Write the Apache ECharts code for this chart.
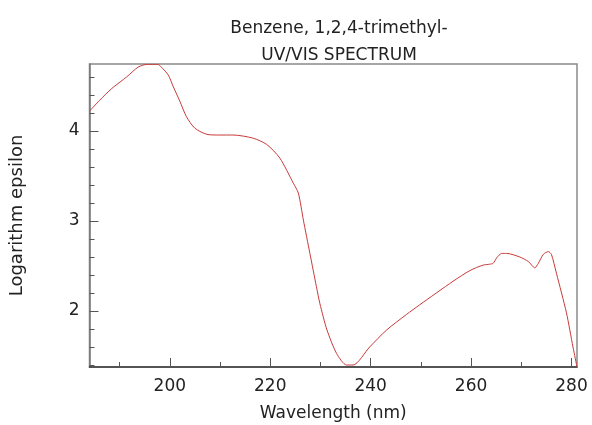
<!DOCTYPE html>
<html>
<head>
<meta charset="utf-8">
<script src="https://cdn.jsdelivr.net/npm/echarts@6/dist/echarts.min.js"></script>
<style>
  html, body { margin: 0; padding: 0; background: #fff; }
  #chart { width: 592px; height: 425px; }
</style>
</head>
<body>
<div id="chart"></div>
<script>
// wavelength (nm) and log epsilon
const wavelength = [184, 186, 188.4, 191.4, 193.7, 195.5, 197.6, 198.3, 199.7, 200.7, 202, 203.3, 205, 207.6, 210, 212.6, 216.6, 219.3, 221.9, 224.6, 225.6, 226.6, 227.9, 229.2, 229.9, 231.3, 233.2, 235.2, 236.5, 239.8, 243.2, 247.1, 249.8, 256.4, 259.8, 262.4, 263.7, 264.4, 265.1, 266.1, 267.1, 269.7, 271.4, 272.7, 273.4, 274.4, 275.4, 276.0, 277.0, 279.0, 280.3, 281.1];
const logEps = [4.22, 4.34, 4.47, 4.60, 4.71, 4.74, 4.74, 4.71, 4.62, 4.49, 4.33, 4.16, 4.03, 3.96, 3.955, 3.955, 3.92, 3.85, 3.70, 3.42, 3.31, 3.01, 2.64, 2.27, 2.08, 1.79, 1.53, 1.40, 1.40, 1.60, 1.79, 1.96, 2.07, 2.33, 2.45, 2.51, 2.52, 2.53, 2.59, 2.64, 2.64, 2.60, 2.55, 2.48, 2.53, 2.63, 2.66, 2.63, 2.42, 1.98, 1.60, 1.38];

const xMajor = [200, 220, 240, 260, 280];
const xMinor = [190, 210, 230, 250, 270];
const yMajor = [2, 3, 4];
const yMinor = [1.4, 1.6, 1.8, 2.2, 2.4, 2.6, 2.8, 3.2, 3.4, 3.6, 3.8, 4.2, 4.4, 4.6];

const xMin = 184, xMax = 281.1;
const yMin = 1.378, yMax = 4.744;

const chart = echarts.init(document.getElementById('chart'));
const font = 'DejaVu Sans';

let option = {
	backgroundColor: '#ffffff',
	animation: false,
	title: {
		text: 'Benzene, 1,2,4-trimethyl-\nUV/VIS SPECTRUM',
		left: 334,
		textAlign: 'center',
		top: 10,
		textStyle: {
			color: '#222',
			fontWeight: 'normal',
			fontFamily: font,
			fontSize: 17,
			lineHeight: 27
		}
	},
	grid: {
		left: 89.5,
		right: 15,
		top: 64,
		bottom: 58,
		outerBoundsMode: 'none',
		show: true,
		borderColor: '#8a8a8a',
		borderWidth: 1.5,
		backgroundColor: 'transparent'
	},
	xAxis: [{
		type: 'value',
		min: xMin,
		max: xMax,
		name: 'Wavelength (nm)',
		nameLocation: 'middle',
		nameGap: 38,
		nameTextStyle: { color: '#222', fontFamily: font, fontSize: 17 },
		axisLine: { show: true, lineStyle: { color: '#3a3a3a', width: 1.5 } },
		axisTick: { show: true, inside: true, length: 9, customValues: xMajor, lineStyle: { color: '#555' } },
		axisLabel: { color: '#222', fontFamily: font, fontSize: 17, margin: 11, customValues: xMajor },
		splitLine: { show: false }
	}, {
		type: 'value',
		position: 'bottom',
		min: xMin,
		max: xMax,
		axisLine: { show: false },
		axisTick: { show: true, inside: true, length: 5, customValues: xMinor, lineStyle: { color: '#555' } },
		axisLabel: { show: false },
		splitLine: { show: false }
	}],
	yAxis: [{
		type: 'value',
		min: yMin,
		max: yMax,
		name: 'Logarithm epsilon',
		nameLocation: 'middle',
		nameGap: 63,
		nameTextStyle: { color: '#222', fontFamily: font, fontSize: 18 },
		axisLine: { show: true, lineStyle: { color: '#777', width: 1.5 } },
		axisTick: { show: true, inside: true, length: 9, customValues: yMajor, lineStyle: { color: '#555' } },
		axisLabel: { color: '#222', fontFamily: font, fontSize: 17, margin: 10, customValues: yMajor },
		splitLine: { show: false }
	}, {
		type: 'value',
		position: 'left',
		min: yMin,
		max: yMax,
		axisLine: { show: false },
		axisTick: { show: true, inside: true, length: 5, customValues: yMinor, lineStyle: { color: '#555' } },
		axisLabel: { show: false },
		splitLine: { show: false }
	}],
	series: [{
		type: 'line',
		xAxisIndex: 0,
		yAxisIndex: 0,
		data: wavelength.map((w, i) => [w, logEps[i]]),
		showSymbol: false,
		smooth: 0.25,
		clip: true,
		lineStyle: { color: '#c83a3a', width: 1 }
	}]
};
chart.setOption(option);
</script>
</body>
</html>
